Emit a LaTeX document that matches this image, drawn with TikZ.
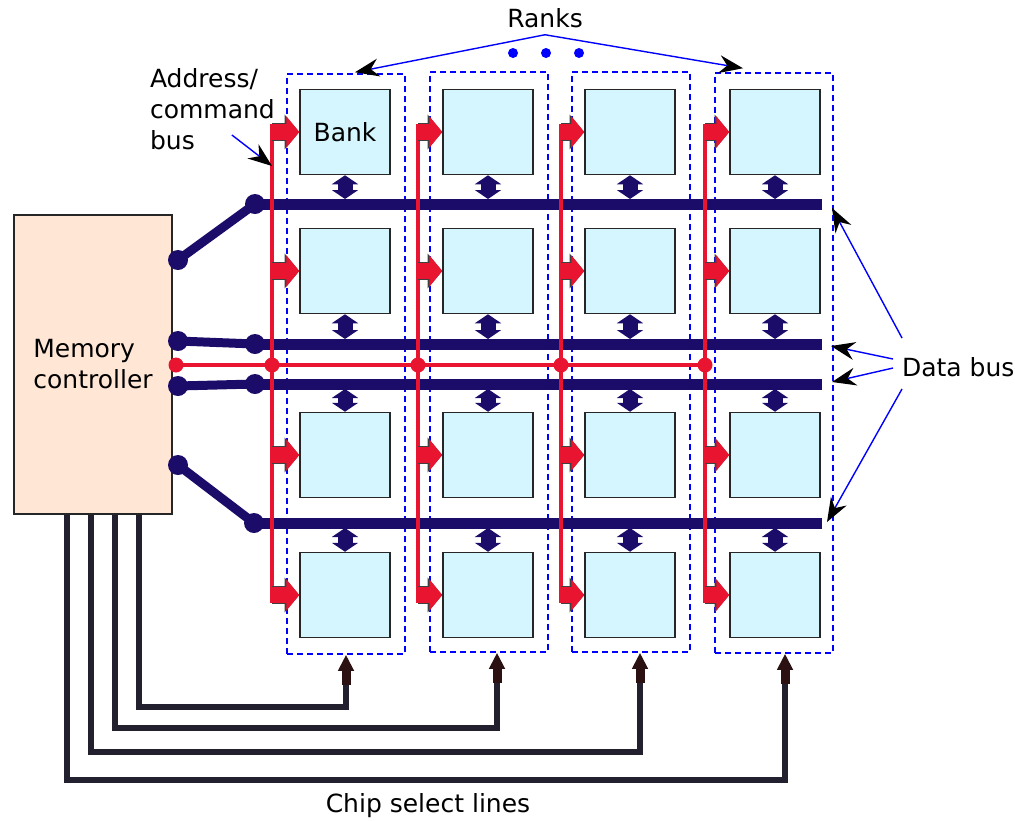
\documentclass[tikz,border=0pt]{standalone}
\usepackage{fontspec}
\setmainfont{DejaVu Sans}
\usepackage{xcolor}
\usepackage{tikz}
\usetikzlibrary{arrows.meta,positioning,calc}

\definecolor{bankfill}{RGB}{213,246,255}
\definecolor{mcfill}{RGB}{255,230,213}
\definecolor{busnavy}{RGB}{27,12,105}
\definecolor{cmdred}{RGB}{232,20,48}
\definecolor{csdark}{RGB}{34,32,46}
\definecolor{cstip}{RGB}{43,17,17}

\begin{document}
\begin{tikzpicture}[x=0.5pt, y=-0.5pt,
  font=\fontsize{12.5}{15.5}\selectfont,
  bank/.style={draw=black!85, line width=0.75pt, fill=bankfill, minimum width=45pt, minimum height=42.5pt, inner sep=0pt},
  rank/.style={draw=blue, line width=0.75pt, dash pattern=on 3pt off 2pt, minimum width=59pt, minimum height=290pt, inner sep=0pt},
  ctrl/.style={draw=black!85, line width=0.9pt, fill=mcfill, minimum width=79pt, minimum height=149.5pt, align=left},
  bus/.style={busnavy, line width=5.5pt},
  link/.style={busnavy, line width=4.5pt},
  cmdline/.style={cmdred, line width=1.6pt},
  cmdarrow/.style={cmdred, line width=8pt, -{Triangle[length=6.5pt, width=15.5pt]},
    preaction={draw=black!75, line width=9pt, -{Triangle[length=7.3pt, width=17pt]}}},
  dataarrow/.style={busnavy, line width=7.5pt, {Triangle[length=4.5pt, width=13pt]}-{Triangle[length=4.5pt, width=13pt]}},
  csline/.style={csdark, line width=3pt, -{Rectangle[length=7pt, width=4.5pt, color=cstip] Triangle[length=8pt, width=7.5pt, color=cstip]}},
  pointer/.style={blue, line width=0.7pt, -{Stealth[length=12pt, width=9pt, inset=4pt, color=black]}}
]
\useasboundingbox (0,0) rectangle (1015,820);

% Ranks (dashed)
\node[rank] (rank1) at (346,364) {};
\node[rank] (rank2) at (489,362) {};
\node[rank] (rank3) at (631,362) {};
\node[rank] (rank4) at (774,363) {};

% Banks
\foreach \c/\x in {1/345,2/488,3/630,4/775}
  \foreach \r/\y in {1/132,2/271,3/455,4/595}
    \node[bank] (bank\r\c) at (\x,\y) {};
\node at (bank11.center) {Bank};

% Memory controller
\node[ctrl] (mc) at (93,364.5) {Memory\\controller};

% Data buses
\coordinate (b1) at (255,204); \coordinate (e1) at (822,204);
\coordinate (b2) at (255,344); \coordinate (e2) at (822,344);
\coordinate (b3) at (255,384); \coordinate (e3) at (822,384);
\coordinate (b4) at (254,523); \coordinate (e4) at (822,523);
\coordinate (p1) at (178,260);
\coordinate (p2) at (178,341);
\coordinate (p3) at (178,386);
\coordinate (p4) at (178,465);
\foreach \i in {1,...,4} {
  \draw[bus] (b\i) -- (e\i);
  \draw[link] (p\i) -- (b\i);
  \fill[busnavy] (p\i) circle (5pt) (b\i) circle (5pt);
}
\foreach \c in {1,...,4} {
  \draw[dataarrow, shorten >=2.5pt] (bank1\c.south) -- (bank1\c.south |- b1);
  \draw[dataarrow, shorten >=2.5pt] (bank2\c.south) -- (bank2\c.south |- b2);
  \draw[dataarrow, shorten >=2.5pt] (bank3\c.north) -- (bank3\c.north |- b3);
  \draw[dataarrow, shorten >=2.5pt] (bank4\c.north) -- (bank4\c.north |- b4);
}

% Address/command bus
\coordinate (v0) at (176,365);
\coordinate (v1) at (272,365);
\coordinate (v2) at (418,365);
\coordinate (v3) at (561,365);
\coordinate (v4) at (705,365);
\draw[cmdline] (v0) -- (v4);
\foreach \c in {1,...,4} {
  \draw[cmdline] ($(v\c |- bank1\c)+(0,-8)$) -- ($(v\c |- bank4\c)+(0,8)$);
  \foreach \r in {1,...,4}
    \draw[cmdarrow] (v\c |- bank\r\c) -- (bank\r\c.west);
}
\foreach \i in {0,...,4}
  \fill[cmdred] (v\i) circle (3.75pt);

% Chip select lines
\draw[csline] (mc.south -| 139,0) |- (346,707) -- (rank1.south);
\draw[csline] (mc.south -| 115,0) |- (497,728) -- ($(rank2.south)+(8,0)$);
\draw[csline] (mc.south -| 91,0) |- (640,752) -- ($(rank3.south)+(9,0)$);
\draw[csline] (mc.south -| 67,0) |- (785,780) -- ($(rank4.south)+(11,0)$);

% Labels
\node (ranks) at (545,18) {Ranks};
\draw[pointer] (ranks.south) -- ($(rank1.north)+(9,-1)$);
\draw[pointer] (ranks.south) -- ($(rank4.north)+(-31,-4)$);
\foreach \x in {513,546,579}
  \fill[blue] (\x,53) circle (2.5pt);

\node[align=left, anchor=west] (addr) at (143,109) {Address/\\command\\bus};
\draw[pointer] ($(addr.east)+(-50,26)$) -- (v1 |- 0,166);

\node[anchor=west] (dbus) at (895,367) {Data bus};
\draw[pointer] ($(dbus.west)+(7,-29)$) -- ($(e1)+(10,4)$);
\draw[pointer] ($(dbus.west)+(-2,-8)$) -- ($(e2)+(9,2)$);
\draw[pointer] ($(dbus.west)+(-2,1)$) -- ($(e3)+(10,-2)$);
\draw[pointer] ($(dbus.west)+(7,22)$) -- ($(e4)+(5,-1)$);

\node (cslabel) at (428,806) {Chip select lines};

\end{tikzpicture}
\end{document}
